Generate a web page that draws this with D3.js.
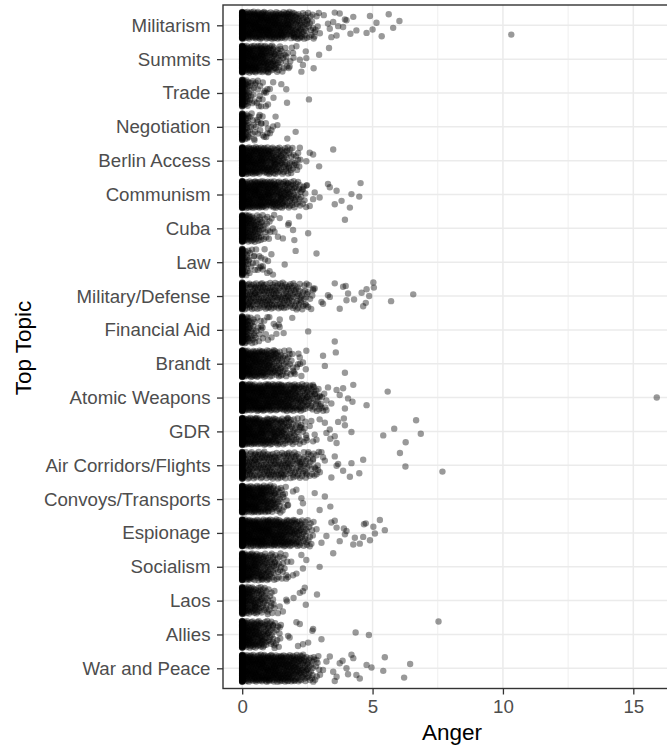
<!DOCTYPE html>
<html>
<head>
<meta charset="utf-8">
<script src="https://cdn.jsdelivr.net/npm/d3@7"></script>
<style>
  html, body { margin: 0; padding: 0; background: #fff; }
  svg { display: block; font-family: "Liberation Sans", Arial, Helvetica, sans-serif; }
</style>
</head>
<body>
<svg id="chart" width="667" height="747"></svg>
<script>
// Topics, top to bottom
const topics = [
  "Militarism", "Summits", "Trade", "Negotiation", "Berlin Access",
  "Communism", "Cuba", "Law", "Military/Defense", "Financial Aid",
  "Brandt", "Atomic Weapons", "GDR", "Air Corridors/Flights", "Convoys/Transports",
  "Espionage", "Socialism", "Laos", "Allies", "War and Peace"
];

// Number of texts with an anger score of exactly 0, per topic
const zeroCounts = [
  120, 110, 70, 70, 110,
  110, 90, 60, 100, 80,
  110, 130, 120, 100, 110,
  120, 100, 90, 100, 130
];

// Counts of texts per 0.25-wide anger bin (starting at 0, zeros excluded)
const binCounts = [
  [46, 46, 46, 44, 42, 40, 36, 32, 26, 20, 12, 6],
  [46, 44, 40, 36, 28, 18, 9, 4],
  [30, 12, 6, 4, 2],
  [26, 10, 6, 4, 2],
  [46, 44, 40, 36, 32, 26, 20, 12, 6],
  [46, 44, 44, 40, 36, 32, 28, 22, 15, 8],
  [42, 32, 22, 11, 5],
  [20, 7, 4, 3],
  [24, 24, 22, 22, 22, 20, 20, 18, 16, 12, 6],
  [38, 18, 8, 4, 3, 2],
  [46, 42, 38, 34, 28, 22, 14, 8, 4],
  [46, 46, 44, 42, 40, 38, 35, 32, 28, 24, 18, 12, 6],
  [46, 44, 40, 36, 32, 28, 24, 18, 13, 8],
  [24, 24, 22, 22, 22, 20, 20, 18, 16, 14, 10, 6],
  [46, 44, 40, 36, 28, 17, 8],
  [46, 46, 45, 44, 40, 38, 35, 30, 25, 17, 9],
  [44, 40, 32, 26, 20, 13, 7],
  [40, 32, 25, 17, 9],
  [44, 38, 32, 24, 16, 9],
  [46, 46, 45, 44, 42, 40, 38, 35, 30, 24, 16, 8]
];

// Individual scores in the upper tail of each topic
const tailScores = [
  [2.78, 3.13, 3.36, 3.49, 3.62, 3.74, 3.87, 4.0, 4.15, 4.26, 4.38, 3.29, 3.42, 3.55, 3.68, 3.94, 4.77, 4.9, 5.0, 5.15, 5.35, 5.62, 5.79, 6.03, 10.32],
  [1.69, 1.82, 1.95, 2.08, 2.21, 2.33, 2.44, 2.27, 2.46, 2.74, 2.95, 3.33],
  [0.6, 0.86, 0.99, 1.2, 1.5, 1.69, 1.72, 0.67, 0.79, 0.92, 0.64, 2.56],
  [0.47, 0.73, 0.92, 1.12, 1.28, 0.6, 0.79, 0.99, 0.67, 1.35, 1.73, 2.05],
  [2.08, 2.21, 2.46, 2.72, 1.79, 1.88, 2.14, 2.59, 2.95, 3.49],
  [2.33, 2.72, 2.46, 2.59, 2.78, 2.97, 3.29, 3.55, 3.62, 3.81, 3.36, 4.13, 4.19, 4.49, 4.54],
  [1.05, 1.24, 1.44, 1.56, 1.76, 1.95, 2.18, 1.37, 1.79, 2.53, 3.94, 2.0],
  [0.28, 0.47, 0.79, 0.54, 0.86, 1.12, 0.67, 0.99, 1.18, 0.73, 1.05, 1.63, 2.05, 2.85],
  [2.46, 2.78, 3.04, 3.29, 3.74, 3.87, 4.0, 4.06, 2.53, 2.72, 3.1, 3.36, 3.55, 3.97, 4.29, 4.58, 4.64, 4.77, 4.74, 4.87, 5.03, 5.05, 5.71, 6.56],
  [0.73, 0.99, 1.28, 1.44, 1.59, 0.79, 1.4, 1.92, 2.53, 3.55],
  [1.82, 2.14, 2.46, 1.95, 2.21, 2.33, 2.27, 2.44, 3.1, 3.17, 3.59, 3.94],
  [2.72, 2.97, 3.23, 3.42, 3.62, 3.74, 3.94, 4.23, 3.87, 4.06, 4.26, 4.77, 5.58, 2.78, 3.04, 2.85, 3.29, 15.9],
  [2.46, 2.65, 2.78, 2.27, 2.72, 2.97, 3.23, 2.59, 2.85, 3.17, 3.55, 3.36, 3.62, 3.9, 4.19, 3.94, 3.38, 3.68, 5.41, 5.83, 6.27, 6.67, 6.85],
  [2.21, 2.46, 2.72, 3.04, 3.62, 3.87, 3.1, 3.42, 3.68, 2.85, 3.17, 2.53, 2.78, 2.91, 3.55, 4.13, 4.19, 4.49, 4.64, 6.05, 6.26, 7.68],
  [1.56, 1.76, 1.95, 2.21, 2.27, 2.33, 2.08, 2.97, 3.17, 3.38, 2.78],
  [2.59, 2.85, 3.04, 3.23, 3.42, 3.62, 3.74, 3.94, 3.55, 4.0, 4.26, 4.32, 4.67, 5.03, 4.9, 5.09, 5.28, 5.47, 4.51, 4.64, 4.74, 3.9],
  [1.69, 1.88, 1.95, 2.33, 2.27, 2.46, 2.08, 2.97, 3.49, 1.56, 1.76],
  [1.12, 1.37, 1.69, 2.21, 1.44, 1.56, 1.97, 2.33, 2.44, 2.4, 1.72, 2.87, 1.24],
  [1.44, 1.82, 2.21, 2.33, 2.69, 1.76, 2.08, 2.53, 2.72, 3.04, 1.18, 2.14, 4.35, 4.86, 7.53],
  [2.85, 3.1, 3.36, 3.62, 3.74, 4.0, 4.19, 4.38, 3.23, 3.49, 4.26, 4.51, 4.77, 4.96, 3.55, 4.06, 3.85, 5.41, 5.47, 6.21, 6.44]
];

const xTicks = [0, 5, 10, 15];
const xMinor = [2.5, 7.5, 12.5];
const binWidth = 0.25;

// Radical inverse in base 2 (van der Corput), used to spread the jitter
function radicalInverse(k) {
  let f = 0.5, r = 0;
  while (k > 0) { r += f * (k & 1); k >>= 1; f *= 0.5; }
  return r;
}
const frac = v => v - Math.floor(v);

// Expand the per-topic counts and tail scores into one record per text.
// Each record gets a vertical jitter in ±0.4 of a category step.
const records = [];
topics.forEach((topic, i) => {
  const shift = frac(i * 0.3819660113);
  for (let k = 0; k < zeroCounts[i]; k++) {
    records.push({ topic, anger: 0, u: frac(radicalInverse(k + 1) + shift) });
  }
  binCounts[i].forEach((n, b) => {
    const s = frac(shift + (b + 1) * 0.6180339887);
    for (let k = 0; k < n; k++) {
      records.push({
        topic,
        anger: b * binWidth + (k + 0.5) / n * binWidth,
        u: frac(radicalInverse(k + 1) + s)
      });
    }
  });
  tailScores[i].forEach((v, k) => {
    records.push({ topic, anger: v, u: frac(radicalInverse(k + 3) + shift * 1.7) });
  });
});
records.forEach(r => { r.jitter = (r.u * 2 - 1) * 0.4; });

const svg = d3.select("#chart");
const W = 667, H = 747;
const panel = { left: 223, top: 5, right: 681, bottom: 688.5 };

const x = d3.scaleLinear().domain([0, 15]).range([242.2, 633.3]);
const y = d3.scalePoint().domain(topics).range([25.3, 668.3]);
const step = y.step();

svg.append("rect").attr("width", W).attr("height", H).attr("fill", "#fff");

// Grid
const grid = svg.append("g");
grid.selectAll("line.minor").data(xMinor).join("line")
  .attr("x1", d => x(d)).attr("x2", d => x(d))
  .attr("y1", panel.top).attr("y2", panel.bottom)
  .attr("stroke", "#ebebeb").attr("stroke-width", 0.8);
grid.selectAll("line.majx").data(xTicks).join("line")
  .attr("x1", d => x(d)).attr("x2", d => x(d))
  .attr("y1", panel.top).attr("y2", panel.bottom)
  .attr("stroke", "#ebebeb").attr("stroke-width", 1.5);
grid.selectAll("line.majy").data(topics).join("line")
  .attr("x1", panel.left).attr("x2", panel.right)
  .attr("y1", d => y(d)).attr("y2", d => y(d))
  .attr("stroke", "#ebebeb").attr("stroke-width", 1.5);

// Points
svg.append("defs").append("clipPath").attr("id", "clip")
  .append("rect").attr("x", panel.left).attr("y", panel.top)
  .attr("width", panel.right - panel.left).attr("height", panel.bottom - panel.top);

svg.append("g").attr("clip-path", "url(#clip)")
  .selectAll("circle").data(records).join("circle")
  .attr("cx", d => x(d.anger))
  .attr("cy", d => y(d.topic) + d.jitter * step)
  .attr("r", 3.2)
  .attr("fill", "#000")
  .attr("fill-opacity", 0.4);

// Panel border
svg.append("rect")
  .attr("x", panel.left).attr("y", panel.top)
  .attr("width", panel.right - panel.left).attr("height", panel.bottom - panel.top)
  .attr("fill", "none").attr("stroke", "#333").attr("stroke-width", 1.4);

// Axes
const yAxis = svg.append("g")
  .attr("transform", `translate(${panel.left},0)`)
  .call(d3.axisLeft(y).tickSize(6).tickPadding(6.5));
const xAxis = svg.append("g")
  .attr("transform", `translate(0,${panel.bottom})`)
  .call(d3.axisBottom(x).tickValues(xTicks).tickSize(6).tickPadding(5));

[yAxis, xAxis].forEach(ax => {
  ax.select(".domain").remove();
  ax.selectAll(".tick line").attr("stroke", "#333").attr("stroke-width", 1.3);
  ax.selectAll(".tick text")
    .attr("fill", "#4d4d4d")
    .style("font-size", "18.7px")
    .style("font-family", "'Liberation Sans', Arial, sans-serif");
});

// Axis titles
svg.append("text")
  .attr("x", (panel.left + panel.right) / 2).attr("y", 740)
  .attr("text-anchor", "middle")
  .style("font-size", "22.5px").attr("fill", "#000")
  .text("Anger");

svg.append("text")
  .attr("transform", `translate(31,348) rotate(-90)`)
  .attr("text-anchor", "middle")
  .style("font-size", "22.5px").attr("fill", "#000")
  .text("Top Topic");
</script>
</body>
</html>
